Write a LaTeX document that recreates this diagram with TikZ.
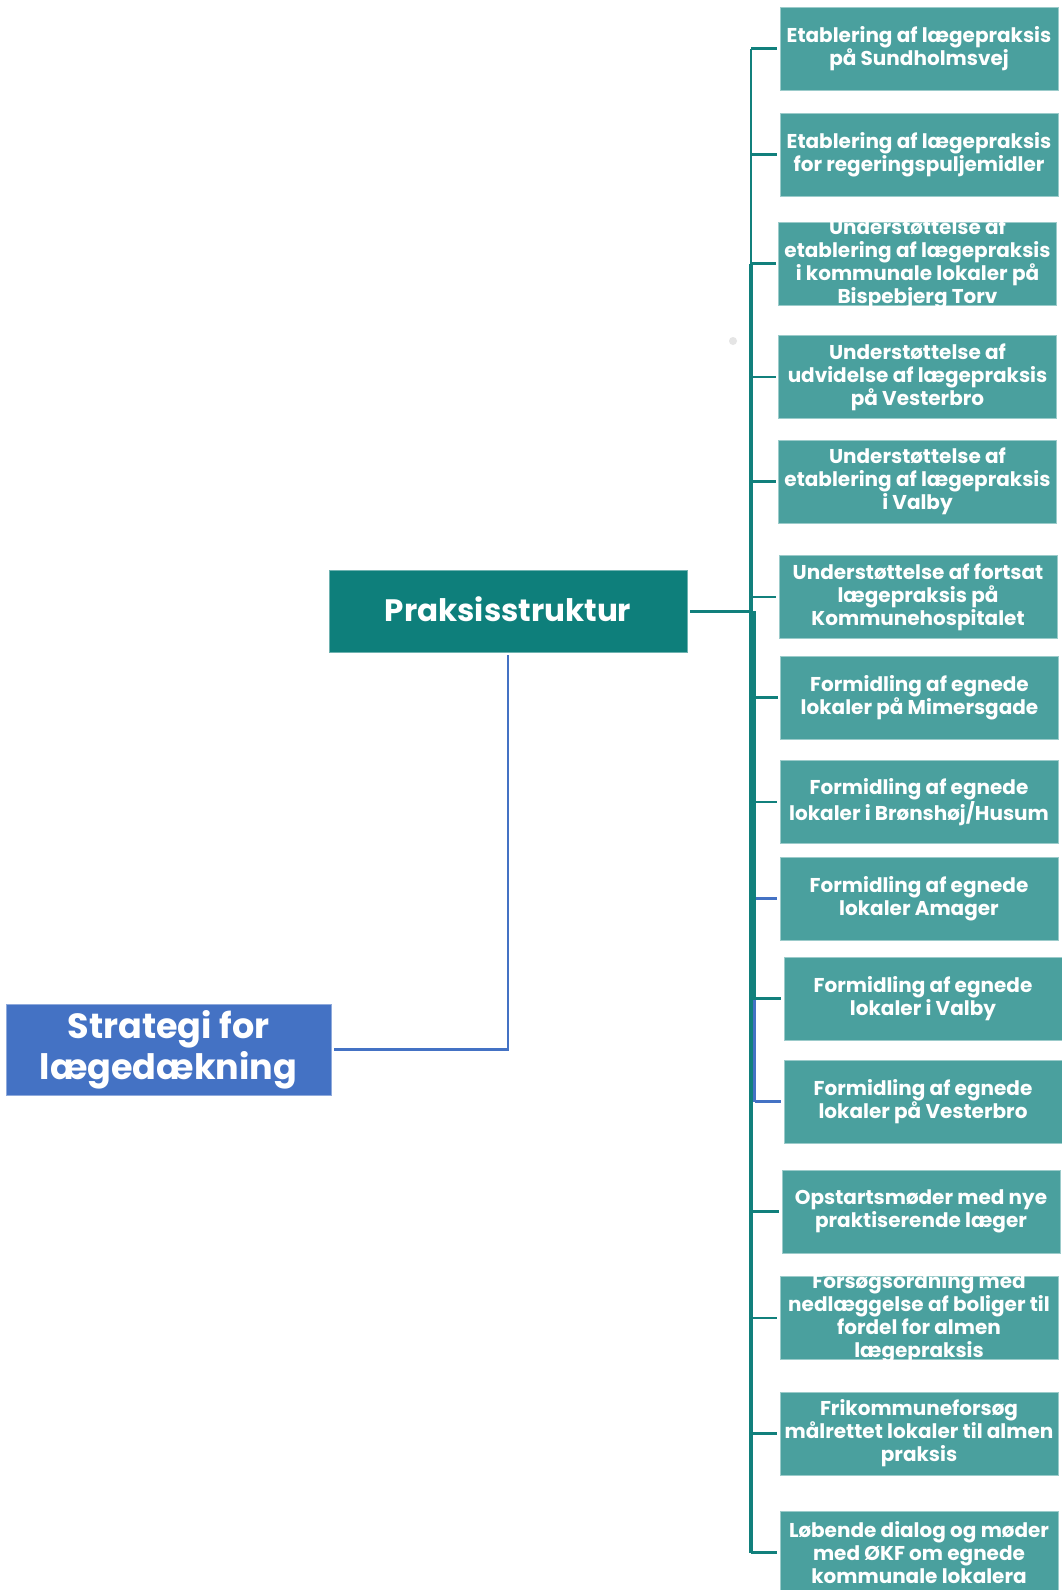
\documentclass[tikz,border=0pt]{standalone}
\usepackage{fontspec}
\newfontfamily\popsb{Poppins Bold}
\newfontfamily\popb{Poppins Bold}
\definecolor{childfill}{HTML}{4AA09E}
\definecolor{parfill}{HTML}{0E7F7B}
\definecolor{tealline}{HTML}{11807C}
\definecolor{blueline}{HTML}{4472C4}
\tikzset{
  cbox/.style={fill=childfill, draw=childfill!55!white, line width=0.6pt,
    minimum width=278pt, minimum height=83pt, inner sep=0pt, outer sep=0pt},
  ctext/.style={text=white, font=\popsb\fontsize{20}{23}\selectfont,
    align=center, inner sep=0pt},
  stub/.style={draw=tealline, line width=2.7pt, shorten >=3pt},
  bstub/.style={draw=blueline, line width=2.7pt, shorten >=3pt},
}
\begin{document}
\begin{tikzpicture}[x=1pt,y=-1pt]
\useasboundingbox (0,0) rectangle (1062,1590);
\fill[white] (0,0) rectangle (1062,1590);

% main nodes
\node[fill=parfill, draw=parfill!60!white, line width=0.6pt, minimum width=358pt, minimum height=82pt,
  inner sep=0pt, label={[text=white, inner sep=0pt, font=\popsb\fontsize{31}{36}\selectfont, yshift=1.5pt]center:Praksisstruktur}] (p) at (508,611) {};
\node[fill=blueline, draw=blueline!60!white, line width=0.6pt, minimum width=325pt, minimum height=91pt,
  inner sep=0pt, text=white, align=center, font=\popb\fontsize{35}{41}\selectfont] (s) at (168.5,1049.5)
  {Strategi for\\lægedækning};

% child boxes
\node[cbox, label={[ctext]center:{Etablering af lægepraksis\\på Sundholmsvej}}] (c1) at (919,48.5) {};
\node[cbox, label={[ctext]center:{Etablering af lægepraksis\\for regeringspuljemidler}}] (c2) at (919,154.5) {};
\node[cbox, label={[ctext]center:{Understøttelse af\\etablering af lægepraksis\\i kommunale lokaler på\\Bispebjerg Torv}}] (c3) at (917.5,263.5) {};
\node[cbox, label={[ctext]center:{Understøttelse af\\udvidelse af lægepraksis\\på Vesterbro}}] (c4) at (917.5,377) {};
\node[cbox, label={[ctext]center:{Understøttelse af\\etablering af lægepraksis\\i Valby}}] (c5) at (917.5,481.5) {};
\node[cbox, label={[ctext]center:{Understøttelse af fortsat\\lægepraksis på\\Kommunehospitalet}}] (c6) at (918,597) {};
\node[cbox, label={[ctext]center:{Formidling af egnede\\lokaler på Mimersgade}}] (c7) at (919.5,697.5) {};
\node[cbox, label={[ctext]center:{Formidling af egnede\\lokaler i Brønshøj/Husum}}] (c8) at (919,802) {};
\node[cbox, label={[ctext]center:{Formidling af egnede\\lokaler Amager}}] (c9) at (919,898.5) {};
\node[cbox, label={[ctext]center:{Formidling af egnede\\lokaler i Valby}}] (c10) at (923,998.5) {};
\node[cbox, label={[ctext]center:{Formidling af egnede\\lokaler på Vesterbro}}] (c11) at (923,1101.5) {};
\node[cbox, label={[ctext]center:{Opstartsmøder med nye\\praktiserende læger}}] (c12) at (921,1211.5) {};
\node[cbox, label={[ctext]center:{Forsøgsordning med\\nedlæggelse af boliger til\\fordel for almen\\lægepraksis}}] (c13) at (919,1318) {};
\node[cbox, label={[ctext]center:{Frikommuneforsøg\\målrettet lokaler til almen\\praksis}}] (c14) at (919,1433.5) {};
\node[cbox, label={[ctext]center:{Løbende dialog og møder\\med ØKF om egnede\\kommunale lokalera}}] (c15) at (919,1552.5) {};

% trunk coordinates
\coordinate (t1) at (751,48.5);
\coordinate (t3) at (751,263.5);
\coordinate (tj) at (751,611);
\coordinate (j) at (752.5,611);
\coordinate (k) at (752.5,1000);
\coordinate (tk) at (751,1000);
\coordinate (te) at (751,1552.5);
\coordinate (bk) at (754.5,1000);
\coordinate (bj) at (754.5,611);

% connector Strategi -> Praksisstruktur
\draw[blueline, line width=2.6pt, shorten <=3pt, shorten >=3pt] (s.east) -| (p.south);

% trunk
\draw[tealline, line width=2.7pt] (t1) -- (t3);
\draw[tealline, line width=4.5pt] (t3) -- (tj);
\draw[blueline, line width=3pt] (bj) -- (bk |- c11);
\draw[tealline, line width=7pt] (j) -- (k);
\draw[tealline, line width=4pt] (tk) -- (te);
\draw[blueline, line width=3pt] (bk) -- (bk |- c11);
\draw[tealline, line width=3pt, shorten <=3pt] (p.east) -- (j);

% stubs
\foreach \c in {c1,c2,c3,c4,c5,c6,c7,c8,c10,c12,c13,c14,c15}{
  \draw[stub] (t1 |- \c.west) -- (\c.west);
}
\draw[bstub] (k |- c9.west) ++(3.5,0) coordinate (b9) (b9) -- (c9.west);
\draw[bstub] (bk |- c11.west) -- (c11.west);

% faint dot
\fill[gray!20] (733,341) circle (4pt);
\end{tikzpicture}
\end{document}
